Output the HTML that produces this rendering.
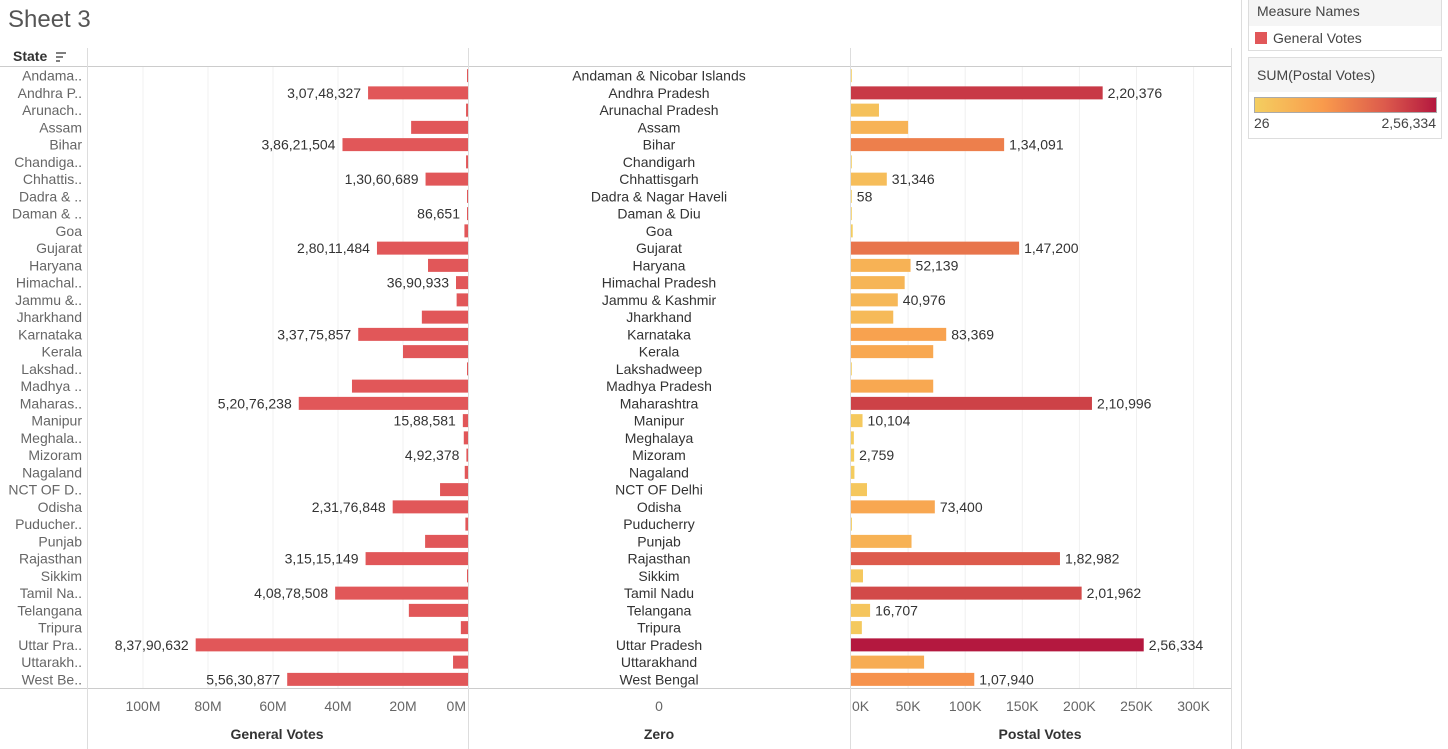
<!DOCTYPE html>
<html><head><meta charset="utf-8"><style>
body{margin:0;width:1448px;height:749px;background:#fff;font-family:"Liberation Sans",sans-serif;overflow:hidden;position:relative}
</style></head><body>
<div style="position:absolute;left:8px;top:6px;font-size:24px;color:#555">Sheet 3</div>
<svg id="chart" width="1448" height="749" style="position:absolute;left:0;top:0"></svg>
<div style="position:absolute;left:1248px;top:0;width:192px;height:50px;border:1px solid #ddd;border-top:none;background:#fff">
 <div style="background:#f5f5f5;height:26px;line-height:22px;padding-left:8px;font-size:14px;color:#444">Measure Names</div>
 <div style="height:24px;line-height:24px;font-size:14px;color:#444;padding-left:6px"><span style="display:inline-block;width:12px;height:12px;background:#e15759;vertical-align:-1px;margin-right:6px"></span>General Votes</div>
</div>
<div style="position:absolute;left:1248px;top:57px;width:192px;height:80px;border:1px solid #ddd;background:#fff">
 <div style="background:#f5f5f5;height:34px;line-height:34px;padding-left:8px;font-size:14px;color:#444">SUM(Postal Votes)</div>
 <div style="margin:5px 0 0 5px;width:181px;height:14px;border:1px solid #aaa;background:linear-gradient(to right,#f4ce60,#f99a4c 38%,#dc5a4c 72%,#b4183f)"></div>
 <div style="position:relative;font-size:14px;color:#444;height:18px"><span style="position:absolute;left:5px;top:2px">26</span><span style="position:absolute;right:5px;top:2px">2,56,334</span></div>
</div>
<script>
const states=["Andaman & Nicobar Islands","Andhra Pradesh","Arunachal Pradesh","Assam","Bihar","Chandigarh","Chhattisgarh","Dadra & Nagar Haveli","Daman & Diu","Goa","Gujarat","Haryana","Himachal Pradesh","Jammu & Kashmir","Jharkhand","Karnataka","Kerala","Lakshadweep","Madhya Pradesh","Maharashtra","Manipur","Meghalaya","Mizoram","Nagaland","NCT OF Delhi","Odisha","Puducherry","Punjab","Rajasthan","Sikkim","Tamil Nadu","Telangana","Tripura","Uttar Pradesh","Uttarakhand","West Bengal"];
const shortNames=["Andama..","Andhra P..","Arunach..","Assam","Bihar","Chandiga..","Chhattis..","Dadra & ..","Daman & ..","Goa","Gujarat","Haryana","Himachal..","Jammu &..","Jharkhand","Karnataka","Kerala","Lakshad..","Madhya ..","Maharas..","Manipur","Meghala..","Mizoram","Nagaland","NCT OF D..","Odisha","Puducher..","Punjab","Rajasthan","Sikkim","Tamil Na..","Telangana","Tripura","Uttar Pra..","Uttarakh..","West Be.."];
const generalVotes=[270000,30748327,600000,17500000,38621504,600000,13060689,200000,86651,1100000,28011484,12300000,3690933,3500000,14200000,33775857,20000000,50000,35700000,52076238,1588581,1300000,492378,1000000,8600000,23176848,800000,13200000,31515149,300000,40878508,18200000,2200000,83790632,4600000,55630877];
const generalLabelShown=[0,1,0,0,1,0,1,0,1,0,1,0,1,0,0,1,0,0,0,1,1,0,1,0,0,1,0,0,1,0,1,0,0,1,0,1];
const postalVotes=[300,220376,24500,50000,134091,500,31346,58,26,1500,147200,52139,47000,40976,37000,83369,72000,100,72000,210996,10104,2500,2759,3000,14000,73400,800,53000,182982,10500,201962,16707,9500,256334,64000,107940];
const postalLabelShown=[0,1,0,0,1,0,1,1,0,0,1,1,0,1,0,1,0,0,0,1,1,0,1,0,0,1,0,0,1,0,1,1,0,1,0,1];
const genTicks=[100e6,80e6,60e6,40e6,20e6,0];
const genTickLabels=["100M","80M","60M","40M","20M","0M"];
const postTicks=[0,50000,100000,150000,200000,250000,300000];
const postTickLabels=["0K","50K","100K","150K","200K","250K","300K"];

const svg=document.getElementById('chart');const NS="http://www.w3.org/2000/svg";
function el(t,a,p){const e=document.createElementNS(NS,t);for(const k in a)e.setAttribute(k,a[k]);(p||svg).appendChild(e);return e;}
const fmt=v=>{let s=String(Math.round(v));if(s.length<=3)return s;let last=s.slice(-3),rest=s.slice(0,-3);rest=rest.replace(/\B(?=(\d{2})+(?!\d))/g,",");return rest+","+last;};
const gx=v=>468-v*3.25e-6;
const px=v=>851+v*0.001142;
const rowH=(688-67)/36;
const rowY=i=>67+i*rowH;
const maxP=256334,minP=26;
const stops=[[0,[244,206,96]],[0.38,[249,154,76]],[0.72,[220,90,76]],[1,[180,24,63]]];
function col(v){const t=(v-minP)/(maxP-minP);for(let i=1;i<stops.length;i++){if(t<=stops[i][0]){const a=stops[i-1],b=stops[i];const f=(t-a[0])/(b[0]-a[0]);return 'rgb('+a[1].map((c,j)=>Math.round(c+(b[1][j]-c)*f)).join(',')+')';}}return 'rgb(180,24,63)';}
el('line',{x1:0,y1:66.5,x2:1231,y2:66.5,stroke:'#ccc'});
el('line',{x1:0,y1:688.5,x2:1231,y2:688.5,stroke:'#ccc'});
[87.5,468.5,850.5,1231.5].forEach(x=>el('line',{x1:x,y1:48,x2:x,y2:749,stroke:'#ddd'}));
el('line',{x1:1241.5,y1:0,x2:1241.5,y2:749,stroke:'#ddd'});
let h=el('text',{x:13,y:61,'font-size':14,fill:'#333','font-weight':'bold'});h.textContent='State';

el('path',{d:'M56 53h10M56 57h7M56 61h4',stroke:'#555','stroke-width':1.5});
genTicks.forEach((t,i)=>{const x=gx(t);if(t>0)el('line',{x1:x,y1:67,x2:x,y2:688,stroke:'#f0f0f0'});
 const tx=el('text',{x:i==5?466:x,y:711,'font-size':14,fill:'#666','text-anchor':i==5?'end':'middle'});tx.textContent=genTickLabels[i];
 });
postTicks.forEach((t,i)=>{const x=px(t);if(t>0)el('line',{x1:x,y1:67,x2:x,y2:688,stroke:'#f0f0f0'});
 const tx=el('text',{x:i==0?852:x,y:711,'font-size':14,fill:'#666','text-anchor':i==0?'start':'middle'});tx.textContent=postTickLabels[i];
 });
let z=el('text',{x:659,y:711,'font-size':14,fill:'#666','text-anchor':'middle'});z.textContent='0';
[[277,'General Votes'],[659,'Zero'],[1040,'Postal Votes']].forEach(([x,t])=>{const e=el('text',{x:x,y:739,'font-size':14,fill:'#333','text-anchor':'middle','font-weight':'bold'});e.textContent=t;
 });
states.forEach((s,i)=>{const y=rowY(i),cy=y+rowH/2;
 const r=el('text',{x:82,y:cy+5,'font-size':14,fill:'#666','text-anchor':'end'});r.textContent=shortNames[i];
 
 const c=el('text',{x:659,y:cy+5,'font-size':14,fill:'#333','text-anchor':'middle'});c.textContent=s;
 
 const x0=gx(generalVotes[i]);const w=Math.max(1,468-x0);
 const b=el('rect',{x:468-w,y:cy-6.5,width:w,height:13,fill:'#e15759'});
 
 if(generalLabelShown[i]){const t=el('text',{x:468-w-7,y:cy+5,'font-size':14,fill:'#333','text-anchor':'end'});t.textContent=fmt(generalVotes[i]);
  }
 const pw=Math.max(0.8,px(postalVotes[i])-851);
 const pb=el('rect',{x:851,y:cy-6.5,width:pw,height:13,fill:col(postalVotes[i])});
 
 if(postalLabelShown[i]){const t=el('text',{x:851+pw+5,y:cy+5,'font-size':14,fill:'#333'});t.textContent=fmt(postalVotes[i]);
  }
});
</script>
</body></html>
